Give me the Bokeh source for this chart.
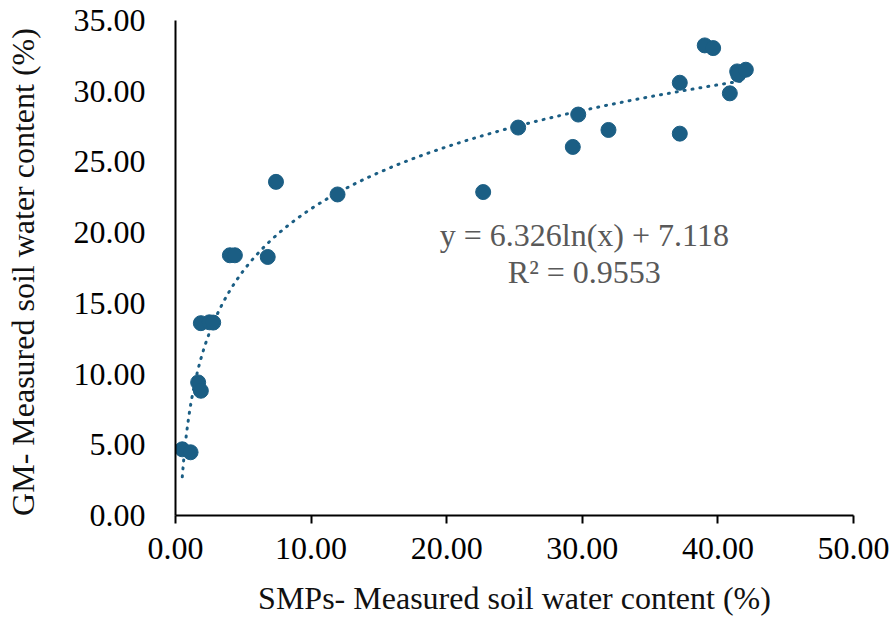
import numpy as np
from bokeh.plotting import figure
from bokeh.models import Range1d, Label, FixedTicker
from bokeh.embed import file_html
from bokeh.resources import INLINE

# Data
smp_x = [0.50, 1.11, 1.67, 1.87, 1.87, 2.50, 2.78, 4.01, 4.38, 6.80, 7.41, 11.95,
         22.69, 25.27, 29.30, 29.70, 31.93, 37.19, 37.19, 39.03, 39.65, 40.88,
         41.42, 41.50, 42.06]
gm_y = [4.68, 4.47, 9.41, 8.82, 13.60, 13.66, 13.64, 18.40, 18.40, 18.28, 23.59, 22.70,
        22.87, 27.43, 26.06, 28.35, 27.26, 30.60, 27.00, 33.24, 33.05, 29.85,
        31.40, 31.17, 31.52]

fit_a = 6.326
fit_b = 7.118
eq_text = "y = 6.326ln(x) + 7.118"
r2_text = "R² = 0.9553"

x_ticks = [0, 10, 20, 30, 40, 50]
y_ticks = [0, 5, 10, 15, 20, 25, 30, 35]

COLOR = "#1B5E84"
FONT = "Liberation Serif"
FS = "32px"

p = figure(width=894, height=619, output_backend="svg", toolbar_location=None,
           x_range=Range1d(0, 50), y_range=Range1d(0, 35),
           min_border_left=175, min_border_right=41, min_border_top=20,
           min_border_bottom=104)
p.outline_line_color = None
p.xgrid.visible = False
p.ygrid.visible = False
p.background_fill_color = "white"
p.border_fill_color = "white"

# trendline from the displayed equation, over the data's x span
tx = np.linspace(min(smp_x), max(smp_x), 400)
ty = fit_a * np.log(tx) + fit_b
p.line(tx, ty, line_color=COLOR, line_width=3, line_dash="1 7", line_cap="round")

p.scatter(smp_x, gm_y, size=15, fill_color=COLOR, line_color=COLOR)

p.add_layout(Label(x=30.15, y=19.8, text=eq_text, text_align="center",
                   text_baseline="middle", text_font=FONT, text_font_size=FS,
                   text_color="#595959"))
p.add_layout(Label(x=30.15, y=17.2, text=r2_text, text_align="center",
                   text_baseline="middle", text_font=FONT, text_font_size=FS,
                   text_color="#595959"))

for ax in (p.xaxis[0], p.yaxis[0]):
    ax.axis_line_color = "black"
    ax.axis_line_width = 2
    ax.minor_tick_line_color = None
    ax.major_label_text_font = FONT
    ax.major_label_text_font_size = FS
    ax.major_label_text_color = "black"
    ax.axis_label_text_font = FONT
    ax.axis_label_text_font_size = FS
    ax.axis_label_text_font_style = "normal"
    ax.axis_label_text_color = "#111111"

p.xaxis.ticker = FixedTicker(ticks=x_ticks)
p.yaxis.ticker = FixedTicker(ticks=y_ticks)
p.xaxis.major_label_overrides = {t: f"{t:.2f}" for t in x_ticks}
p.yaxis.major_label_overrides = {t: f"{t:.2f}" for t in y_ticks}

p.xaxis.major_tick_line_color = "black"
p.xaxis.major_tick_line_width = 2
p.xaxis.major_tick_out = 8
p.xaxis.major_tick_in = 0
p.xaxis.major_label_standoff = 14
p.xaxis.axis_label = "SMPs- Measured soil water content (%)"
p.xaxis.axis_label_standoff = 18

p.yaxis.major_tick_line_color = None
p.yaxis.major_tick_out = 0
p.yaxis.major_tick_in = 0
p.yaxis.major_label_standoff = 30
p.yaxis.axis_label = "GM- Measured soil water  content (%)"
p.yaxis.axis_label_standoff = 30

open("out.html", "w").write(file_html(p, INLINE))
